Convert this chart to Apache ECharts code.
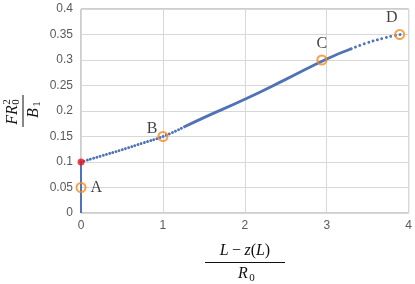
<!DOCTYPE html>
<html><head><meta charset="utf-8">
<script src="https://cdn.jsdelivr.net/npm/echarts@6/dist/echarts.min.js"></script>
<style>html,body{margin:0;padding:0;background:#fff}#c{width:415px;height:284px}</style>
</head><body><div id="c"></div>
<script>
// x ticks and y ticks
var xTicks = [0, 1, 2, 3, 4];
var yTicks = [0, 0.05, 0.1, 0.15, 0.2, 0.25, 0.3, 0.35, 0.4];
// curve (three stretches: sparse start, dense middle, sparse end)
var curveStartX = [0, 0.25, 0.5, 0.75, 1.0, 1.25];
var curveStartY = [0.100, 0.112, 0.124, 0.137, 0.150, 0.168];
var curveMidX = [1.25, 1.5, 2.0, 2.5, 3.0, 3.3];
var curveMidY = [0.168, 0.187, 0.223, 0.262, 0.302, 0.322];
var curveEndX = [3.3, 3.5, 3.7, 3.8, 3.9];
var curveEndY = [0.322, 0.334, 0.343, 0.347, 0.350];
// vertical stem at x=0
var stemX = [0, 0];
var stemY = [0, 0.1];
// marked points
var markNames = ['A', 'B', 'C', 'D'];
var markX = [0, 1.0, 2.94, 3.89];
var markY = [0.05, 0.15, 0.30, 0.35];
var redX = [0], redY = [0.1];

function zip(a, b) { return a.map(function (v, i) { return [v, b[i]]; }); }

var blue = '#4f73b6';
var chart = echarts.init(document.getElementById('c'), null, {renderer: 'canvas'});
var labelPos = ['right', 'left', 'top', 'top'];
var labelOff = [[0, 0], [4, -8], [0, 1], [-8, 1]];
var serif = 'Liberation Serif';

chart.setOption({
  animation: false,
  grid: {left: 81, right: 5, top: 9, bottom: 71, show: true, borderColor: '#9a9a9a', borderWidth: 1},
  xAxis: {
    type: 'value', min: xTicks[0], max: xTicks[xTicks.length - 1], interval: 1,
    axisLine: {show: false}, axisTick: {show: false},
    axisLabel: {color: '#5a5a5a', fontFamily: 'Liberation Sans', fontSize: 12, margin: 7},
    splitLine: {lineStyle: {color: '#d8d8d8', width: 1}}
  },
  yAxis: {
    type: 'value', min: yTicks[0], max: yTicks[yTicks.length - 1], interval: 0.05,
    axisLine: {show: false}, axisTick: {show: false},
    axisLabel: {color: '#5a5a5a', fontFamily: 'Liberation Sans', fontSize: 12, margin: 8},
    splitLine: {lineStyle: {color: '#d8d8d8', width: 1}}
  },
  series: [
    {type: 'line', data: zip(stemX, stemY), symbol: 'none', lineStyle: {color: blue, width: 2}},
    {type: 'line', data: zip(curveStartX, curveStartY), smooth: true, symbol: 'none',
      lineStyle: {color: blue, width: 2.9, type: [0.01, 3.3], cap: 'round'}},
    {type: 'line', data: zip(curveMidX, curveMidY), smooth: true, symbol: 'none',
      lineStyle: {color: blue, width: 2.8}},
    {type: 'line', data: zip(curveEndX, curveEndY), smooth: true, symbol: 'none',
      lineStyle: {color: blue, width: 2.9, type: [0.01, 4.6], cap: 'round'}},
    {type: 'scatter', data: zip(redX, redY), symbol: 'circle', symbolSize: 7,
      itemStyle: {color: '#e8141c'}, z: 5},
    {type: 'scatter', z: 6,
      data: markNames.map(function (n, i) {
        return {value: [markX[i], markY[i]], name: n,
          label: {show: true, formatter: n, position: labelPos[i], offset: labelOff[i],
            fontFamily: serif, fontSize: 16, color: '#111', distance: 4}};
      }),
      symbol: 'circle', symbolSize: 9,
      itemStyle: {color: 'rgba(0,0,0,0)', borderColor: '#f6881f', borderWidth: 2}}
  ],
  graphic: [
    // x-axis title: (L - z(L)) / R0
    {type: 'text', x: 245, y: 251,
      style: {align: 'center', verticalAlign: 'middle',
        rich: {i: {fontFamily: serif, fontStyle: 'italic', fontSize: 16, fill: '#111'},
               r: {fontFamily: serif, fontSize: 16, fill: '#111'}},
        text: '{i|L} {r|−} {i|z}{r|(}{i|L}{r|)}'}},
    {type: 'line', shape: {x1: 205, y1: 262.5, x2: 285, y2: 262.5}, style: {stroke: '#111', lineWidth: 1}},
    {type: 'text', style: {x: 243, y: 274, align: 'center', verticalAlign: 'middle', text: 'R',
      fontFamily: serif, fontStyle: 'italic', fontSize: 16, fill: '#111'}},
    {type: 'text', style: {x: 252, y: 278, align: 'center', verticalAlign: 'middle', text: '0',
      fontFamily: serif, fontSize: 11, fill: '#111'}},
    // y-axis title: F R0^2 / B1 (rotated)
    {type: 'group', x: 22.5, y: 111, rotation: Math.PI / 2, children: [
      {type: 'text', style: {x: -4, y: -10, align: 'center', verticalAlign: 'middle', text: 'FR',
        fontFamily: serif, fontStyle: 'italic', fontSize: 16, fill: '#111'}},
      {type: 'text', style: {x: 9, y: -15, align: 'center', verticalAlign: 'middle', text: '2',
        fontFamily: serif, fontSize: 11, fill: '#111'}},
      {type: 'text', style: {x: 9, y: -6, align: 'center', verticalAlign: 'middle', text: '0',
        fontFamily: serif, fontSize: 11, fill: '#111'}},
      {type: 'line', shape: {x1: -16, y1: 0.5, x2: 16, y2: 0.5}, style: {stroke: '#111', lineWidth: 1}},
      {type: 'text', style: {x: -2, y: 11, align: 'center', verticalAlign: 'middle', text: 'B',
        fontFamily: serif, fontStyle: 'italic', fontSize: 16, fill: '#111'}},
      {type: 'text', style: {x: 7, y: 15, align: 'center', verticalAlign: 'middle', text: '1',
        fontFamily: serif, fontSize: 11, fill: '#111'}}
    ]}
  ]
});
</script></body></html>
